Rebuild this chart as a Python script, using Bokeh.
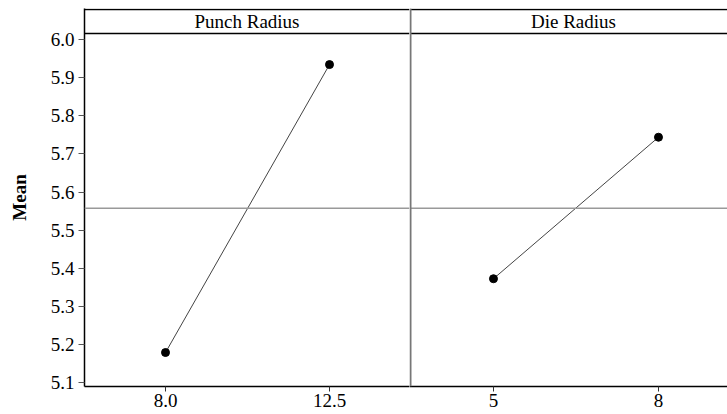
from bokeh.plotting import figure
from bokeh.layouts import row
from bokeh.models import Span, FixedTicker, Range1d
from bokeh.core.properties import value
from bokeh.embed import file_html
from bokeh.resources import INLINE

# ---- data ----
punch_levels = [8.0, 12.5]
punch_labels = ["8.0", "12.5"]
punch_means = [5.178, 5.935]

die_levels = [5, 8]
die_labels = ["5", "8"]
die_means = [5.372, 5.744]

y_ticks = [5.1, 5.2, 5.3, 5.4, 5.5, 5.6, 5.7, 5.8, 5.9, 6.0]
panel_titles = ["Punch Radius", "Die Radius"]
y_label = "Mean"

grand_mean = (sum(punch_means) + sum(die_means)) / 4.0

FONT = "Liberation Serif"
FS = "19px"
yr = Range1d(5.0887, 6.0824)
strip_bottom = 6.0166
strip_top = 6.0797
strip_mid = (strip_bottom + strip_top) / 2


def style(p):
    p.outline_line_color = None
    p.xgrid.visible = False
    p.ygrid.visible = False
    p.background_fill_color = "white"
    p.border_fill_color = "white"


def add_common(p):
    p.add_layout(Span(location=strip_top, dimension="width", line_color="black", line_width=1.5))
    p.add_layout(Span(location=strip_bottom, dimension="width", line_color="black", line_width=1.5))
    p.add_layout(Span(location=grand_mean, dimension="width", line_color="#999999", line_width=1.5))


def style_xaxis(p, ticks, labels):
    ax = p.xaxis[0]
    ax.ticker = FixedTicker(ticks=ticks)
    ax.major_label_overrides = {t: l for t, l in zip(ticks, labels)}
    ax.minor_tick_line_color = None
    ax.major_tick_in = 0
    ax.major_tick_out = 5
    ax.major_tick_line_color = "#333333"
    ax.axis_line_color = "black"
    ax.axis_line_width = 1.5
    ax.major_label_text_font = FONT
    ax.major_label_text_font_size = FS
    ax.major_label_text_color = "black"
    ax.major_label_standoff = 2


# ---- left panel ----
p1 = figure(frame_width=325, frame_height=378,
            x_range=Range1d(5.777, 14.695), y_range=yr,
            output_backend="svg", toolbar_location=None,
            min_border_left=84, min_border_right=0,
            min_border_top=8, min_border_bottom=28)
style(p1)
add_common(p1)
style_xaxis(p1, punch_levels, punch_labels)
ya = p1.yaxis[0]
ya.ticker = FixedTicker(ticks=y_ticks)
ya.major_label_overrides = {t: f"{t:.1f}" for t in y_ticks}
ya.minor_tick_line_color = None
ya.major_tick_in = 0
ya.major_tick_out = 6
ya.major_tick_line_color = "#555555"
ya.axis_line_color = "black"
ya.axis_line_width = 1.5
ya.major_label_text_font = FONT
ya.major_label_text_font_size = FS
ya.major_label_text_color = "black"
ya.major_label_standoff = 4
ya.axis_label = y_label
ya.axis_label_text_font = FONT
ya.axis_label_text_font_style = "bold"
ya.axis_label_text_font_size = FS
ya.axis_label_text_color = "black"
ya.axis_label_standoff = 18

p1.line(punch_levels, punch_means, line_color="#444444", line_width=1)
p1.scatter(punch_levels, punch_means, size=8, color="black")
p1.text(x=[(5.777 + 14.695) / 2], y=[strip_mid], text=[panel_titles[0]],
        text_font=value(FONT), text_font_size=FS, text_color="black",
        text_align="center", text_baseline="middle")

# ---- right panel ----
xr2 = Range1d(3.473, 9.255)
p2 = figure(frame_width=318, frame_height=378,
            x_range=xr2, y_range=yr,
            output_backend="svg", toolbar_location=None,
            min_border_left=0, min_border_right=0,
            min_border_top=8, min_border_bottom=28)
style(p2)
add_common(p2)
style_xaxis(p2, die_levels, die_labels)
p2.yaxis.visible = False
p2.add_layout(Span(location=3.473 + 1.0 / 55, dimension="height", line_color="#777777", line_width=2))

p2.line(die_levels, die_means, line_color="#444444", line_width=1)
p2.scatter(die_levels, die_means, size=8, color="black")
p2.text(x=[3.473 + 164.0 / 55], y=[strip_mid], text=[panel_titles[1]],
        text_font=value(FONT), text_font_size=FS, text_color="black",
        text_align="center", text_baseline="middle")

layout = row(p1, p2)
open("out.html", "w").write(file_html(layout, INLINE))
